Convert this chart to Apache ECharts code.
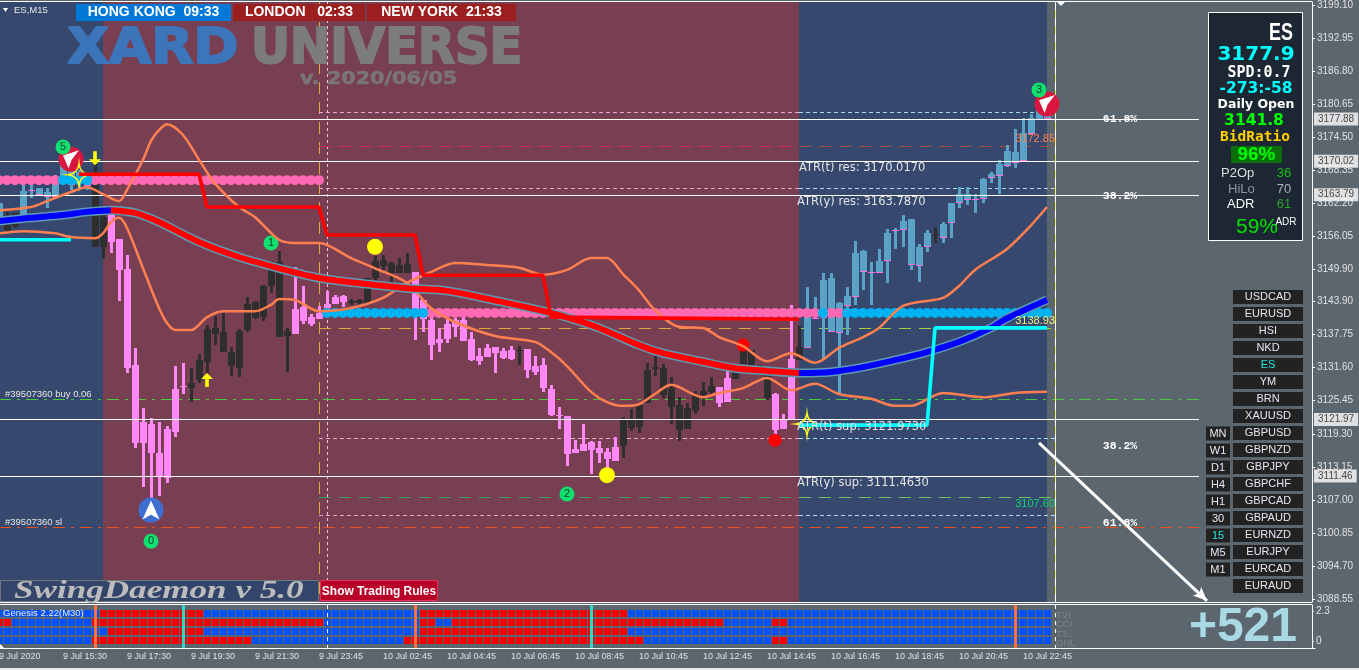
<!DOCTYPE html>
<html>
<head>
<meta charset="utf-8">
<title>ES,M15</title>
<style>
html, body { margin: 0; padding: 0; background: #5c666e; overflow: hidden; }
#chart { width: 1359px; height: 670px; }
</style>
<script src="https://cdn.jsdelivr.net/npm/echarts@6/dist/echarts.min.js"></script>
</head>
<body>
<div id="chart"></div>
<script>
// time axis, one label every 8 bars
const timeLabels = ['9 Jul 2020', '9 Jul 15:30', '9 Jul 17:30', '9 Jul 19:30', '9 Jul 21:30', '9 Jul 23:45', '10 Jul 02:45', '10 Jul 04:45', '10 Jul 06:45', '10 Jul 08:45', '10 Jul 10:45', '10 Jul 12:45', '10 Jul 14:45', '10 Jul 16:45', '10 Jul 18:45', '10 Jul 20:45', '10 Jul 22:45'];
const priceTicks = [3199.10, 3192.95, 3186.80, 3180.65, 3174.50, 3168.35, 3162.20, 3156.05, 3149.90, 3143.90, 3137.75, 3131.60, 3125.45, 3119.30, 3113.15, 3107.00, 3100.85, 3094.70, 3088.55];

// candles
const candleOpen = [
    3159.6, 3157.2, 3157.9, 3159.6, 3164.5, 3163.7, 3163.4, 3163.4, 3166.5, 3165.6,
    3166.5, 3165.4, 3154.0, 3154.0, 3160.0, 3155.5, 3150.0, 3132.1, 3121.5, 3121.1,
    3115.7, 3120.2, 3127.6, 3128.2, 3127.8, 3129.3, 3132.6, 3137.9, 3134.5, 3131.9,
    3131.5, 3138.6, 3140.9, 3141.0, 3146.8, 3137.3, 3137.5, 3142.5, 3142.9, 3141.0,
    3141.8, 3143.4, 3144.7, 3144.9, 3143.6, 3143.6, 3143.6, 3148.3, 3150.5, 3149.2,
    3149.2, 3149.2, 3149.4, 3144.2, 3140.5, 3136.9, 3139.7, 3140.5, 3140.5, 3136.9,
    3133.8, 3135.3, 3135.4, 3134.7, 3134.9, 3134.7, 3135.1, 3131.9, 3132.1, 3127.6,
    3122.8, 3122.6, 3116.5, 3117.4, 3117.8, 3116.7, 3115.9, 3116.8, 3117.0, 3120.4,
    3120.6, 3125.0, 3131.4, 3126.5, 3124.3, 3120.0, 3120.2, 3123.5, 3126.5, 3127.1,
    3128.0, 3129.7, 3129.5, 3132.3, 3132.1, 3130.2, 3125.9, 3126.7, 3122.0, 3133.2,
    3133.0, 3135.3, 3140.7, 3140.8, 3138.2, 3138.1, 3143.1, 3144.7, 3149.4, 3149.2,
    3149.2, 3151.5, 3157.0, 3157.2, 3150.7, 3150.5, 3154.0, 3156.3, 3155.7, 3158.5,
    3162.2, 3162.8, 3162.8, 3163.0, 3166.9, 3167.3, 3169.1, 3169.7, 3170.0, 3175.1,
    3177.7, 3177.9
];
const candleClose = [
    3162.2, 3160.0, 3160.4, 3164.5, 3164.7, 3165.0, 3164.3, 3166.2, 3169.3, 3168.8,
    3168.0, 3166.9, 3165.9, 3159.6, 3155.0, 3149.8, 3131.5, 3117.6, 3117.6, 3115.7,
    3111.2, 3111.1, 3119.6, 3128.0, 3128.7, 3133.0, 3138.8, 3139.0, 3138.2, 3134.5,
    3138.4, 3143.4, 3143.8, 3146.8, 3151.3, 3151.3, 3138.4, 3137.9, 3140.3, 3139.7,
    3140.7, 3142.7, 3143.4, 3143.8, 3144.0, 3144.2, 3148.3, 3151.5, 3151.6, 3151.1,
    3150.7, 3150.9, 3142.3, 3140.7, 3135.8, 3136.2, 3136.9, 3139.2, 3136.6, 3133.0,
    3132.8, 3133.6, 3134.3, 3133.4, 3133.2, 3134.9, 3131.2, 3130.8, 3127.8, 3122.8,
    3122.6, 3115.5, 3115.7, 3116.1, 3116.3, 3115.7, 3114.6, 3114.2, 3122.0, 3121.9,
    3124.6, 3131.2, 3131.7, 3131.5, 3127.8, 3124.6, 3124.1, 3126.5, 3127.3, 3128.2,
    3125.0, 3125.2, 3131.2, 3134.9, 3134.9, 3132.1, 3130.2, 3120.0, 3120.2, 3121.9,
    3135.4, 3141.8, 3140.8, 3147.9, 3148.3, 3143.6, 3144.9, 3152.9, 3153.3, 3149.4,
    3151.5, 3156.7, 3157.2, 3158.9, 3159.3, 3154.0, 3156.7, 3156.5, 3158.3, 3162.2,
    3163.9, 3163.9, 3163.0, 3166.7, 3167.6, 3169.5, 3171.9, 3171.7, 3175.3, 3178.1,
    3179.6, 3178.6
];
const candleLow = [
    3159.6, 3156.8, 3157.6, 3159.3, 3163.2, 3163.6, 3161.3, 3163.2, 3166.2, 3164.7,
    3164.7, 3164.7, 3154.0, 3151.8, 3152.9, 3144.0, 3130.6, 3116.6, 3109.4, 3107.3,
    3107.7, 3110.1, 3118.7, 3126.7, 3125.2, 3128.7, 3130.6, 3135.8, 3134.5, 3130.0,
    3129.9, 3138.2, 3140.7, 3140.3, 3145.5, 3137.3, 3130.8, 3137.9, 3139.7, 3139.4,
    3140.7, 3141.0, 3143.4, 3142.9, 3143.3, 3143.4, 3143.4, 3147.7, 3149.8, 3147.4,
    3149.2, 3149.2, 3136.7, 3138.2, 3133.0, 3134.5, 3136.2, 3137.3, 3136.6, 3132.8,
    3132.1, 3133.6, 3130.6, 3133.2, 3133.0, 3132.1, 3129.7, 3130.2, 3127.1, 3122.6,
    3120.2, 3113.3, 3115.7, 3116.1, 3111.8, 3113.9, 3112.5, 3114.2, 3114.8, 3119.8,
    3119.4, 3125.0, 3130.0, 3125.9, 3121.1, 3117.9, 3120.2, 3123.0, 3124.5, 3126.7,
    3124.3, 3125.2, 3129.5, 3132.3, 3132.1, 3130.2, 3125.6, 3118.1, 3120.2, 3121.9,
    3133.0, 3135.3, 3140.7, 3133.2, 3138.2, 3126.5, 3137.7, 3143.3, 3146.0, 3143.3,
    3149.2, 3147.4, 3153.7, 3154.0, 3149.8, 3147.5, 3153.1, 3154.8, 3154.8, 3155.7,
    3161.3, 3161.9, 3160.4, 3162.2, 3165.9, 3163.9, 3168.9, 3168.8, 3170.0, 3175.1,
    3177.7, 3177.9
];
const candleHigh = [
    3162.2, 3160.6, 3160.4, 3165.6, 3165.6, 3165.0, 3165.0, 3167.5, 3170.3, 3169.3,
    3168.4, 3167.5, 3169.7, 3160.0, 3160.6, 3155.5, 3152.6, 3135.3, 3124.1, 3122.2,
    3121.5, 3120.7, 3131.9, 3132.5, 3131.5, 3134.1, 3139.5, 3141.2, 3141.8, 3135.4,
    3138.8, 3144.8, 3144.0, 3147.0, 3151.4, 3153.3, 3139.0, 3150.3, 3146.8, 3141.6,
    3143.1, 3145.9, 3145.1, 3145.1, 3144.4, 3144.4, 3148.3, 3152.4, 3152.6, 3151.3,
    3152.0, 3152.9, 3149.4, 3144.2, 3141.0, 3139.0, 3141.0, 3140.8, 3141.0, 3138.2,
    3135.3, 3136.0, 3135.4, 3135.3, 3135.6, 3135.6, 3135.1, 3133.8, 3133.4, 3128.4,
    3124.3, 3122.6, 3118.1, 3121.1, 3117.9, 3117.9, 3116.7, 3118.7, 3122.4, 3123.9,
    3125.0, 3132.5, 3133.8, 3132.3, 3129.9, 3126.1, 3125.0, 3127.3, 3128.9, 3129.9,
    3128.0, 3131.0, 3131.2, 3135.8, 3134.9, 3132.1, 3130.2, 3126.9, 3122.9, 3143.3,
    3139.4, 3146.6, 3144.8, 3149.2, 3149.2, 3143.8, 3146.6, 3155.2, 3153.5, 3151.3,
    3153.7, 3157.4, 3157.6, 3160.0, 3159.3, 3154.6, 3157.2, 3157.8, 3158.7, 3162.2,
    3165.2, 3165.2, 3163.9, 3166.9, 3168.0, 3170.3, 3173.0, 3176.0, 3178.1, 3178.8,
    3179.9, 3179.2
];
// b = blue, d = dark, p = pink
const candleKinds = ('bddbbbbbbbbbdd' + 'pppppppppp' + 'ddddddddddddd' + 'ppppppp' + 'dddddddd' + 'ppppppppppppp' + 'd' + 'pppppppppppp' + 'dddddddddddd' + 'pp' + 'ddddd' + 'ppp' + 'd' + 'bbbbbbbbbbbbbbbb' + 'd' + 'bbbbbbbbbbbbbb').split('');

// lines, [bar, price]
const maPoints = [[0, 3158.9], [4, 3159.5], [8, 3160.0], [11, 3160.6], [14, 3160.9], [17, 3160.4], [20, 3158.7], [25, 3155.0], [30, 3152.2], [35, 3150.1], [40, 3148.3], [47, 3147.0], [51, 3146.4], [56, 3145.9], [63, 3143.8], [69, 3141.8], [72, 3140.5], [75, 3139.0], [80, 3135.8], [83, 3134.3], [88, 3132.7], [92, 3131.5], [96, 3131.0], [100, 3130.6], [104, 3130.8], [108, 3131.7], [112, 3133.0], [116, 3134.5], [120, 3136.4], [124, 3139.0], [126, 3140.8], [131, 3144.2]];
const bandA = [[0, 3160.9], [4, 3161.5], [6, 3162.6], [9, 3164.3], [11, 3165.2], [13, 3163.9], [15, 3162.6], [16, 3164.7], [18, 3170.3], [19, 3173.8], [20, 3175.8], [21, 3176.9], [23, 3174.9], [25, 3170.3], [27, 3165.9], [30, 3161.5], [32, 3159.6], [35, 3155.4], [37, 3154.8], [40, 3154.8], [44, 3152.0], [47, 3150.1], [51, 3147.4], [54, 3142.7], [57, 3140.1], [62, 3137.5], [67, 3136.4], [69, 3134.5], [71, 3131.9], [74, 3127.1], [76, 3125.2], [78, 3124.5], [80, 3124.8], [82, 3126.7], [84, 3128.4], [88, 3126.1], [90, 3126.9], [93, 3127.8], [96, 3129.7], [99, 3127.4], [102, 3128.6], [105, 3126.7], [109, 3125.8], [112, 3124.5], [114, 3124.5], [118, 3126.9], [123, 3126.1], [127, 3126.9], [131, 3127.1]];
const bandB = [[0, 3156.6], [3, 3157.0], [7, 3156.6], [9, 3155.9], [12, 3155.7], [13, 3156.6], [14, 3158.7], [15, 3159.5], [16, 3157.6], [18, 3150.1], [20, 3142.7], [21, 3139.9], [22, 3138.6], [24, 3138.6], [26, 3141.0], [28, 3142.1], [32, 3142.1], [34, 3143.3], [35, 3144.4], [37, 3144.2], [40, 3142.1], [44, 3142.7], [48, 3144.6], [51, 3147.4], [54, 3149.4], [57, 3151.1], [61, 3150.7], [65, 3150.2], [68, 3148.9], [71, 3149.8], [74, 3152.0], [76, 3152.0], [78, 3149.0], [80, 3146.0], [82, 3142.3], [85, 3139.2], [88, 3139.0], [90, 3137.3], [93, 3135.6], [96, 3132.8], [99, 3134.3], [102, 3132.5], [105, 3135.3], [108, 3137.3], [110, 3139.0], [113, 3143.1], [118, 3144.6], [120, 3146.8], [122, 3149.8], [126, 3153.7], [129, 3158.1], [131, 3161.5]];
const redSteps = [[10, 3167.6], [25, 3167.6], [26, 3161.5], [40, 3161.5], [41, 3156.3], [52, 3156.3], [53, 3148.8], [68, 3148.8], [69, 3141.0], [100, 3140.6]];
const cyanLeft = [[0, 3155.4], [9, 3155.4]];
const cyanRight = [[100, 3120.9], [116, 3120.9], [117, 3139.0], [131, 3139.0]];

// dot rows
const dotRow1Price = 3166.5, dotRow1Bars = [0, 40], dotRow1Blue = [8, 9, 10, 11];
const dotRow2Price = 3141.8, dotRow2Bars = [41, 131], dotRow2Pink = [[54, 102], [104, 105]];

// levels
const solidLevels = [3177.88, 3170.02, 3163.79, 3121.97, 3111.46];
const atrDotted = [3179.2, 3165.0, 3118.5, 3104.1];
const buyLevel = 3125.77, slLevel = 3101.95;
const upperPending = 3172.85, midPending = 3138.93, lowerPending = 3107.60;

// markers
const greenBars = [8, 34, 71, 19, 130], greenPrices = [3172.67, 3154.8, 3108.1, 3099.3, 3183.3], greenNames = ['5', '1', '2', '0', '3'];
const yellowBars = [47, 76], yellowPrices = [3154.1, 3111.6];
const redDotBars = [93, 97], redDotPrices = [3135.8, 3118.1];
const sellIconBars = [9, 131], sellIconPrices = [3170.4, 3180.67];
const buyIconBars = [19], buyIconPrices = [3105.1];
const upArrowBars = [26], upArrowPrices = [3129.3];
const downArrowBars = [12], downArrowPrices = [3170.6];
const starBars = [10, 101], starPrices = [3167.5, 3121.1];
const tradeArrow = [[130, 3117.6], [151, 3088.2]];

// Genesis panel: [last bar, 1 red / 0 blue]
const genesisTvi = [[12, 0], [25, 1], [52, 0], [78, 1], [131, 0]];
const genesisCci = [[1, 1], [11, 0], [40, 1], [52, 0], [54, 1], [56, 0], [90, 1], [96, 0], [98, 1], [131, 0]];
const genesisT3 = [[13, 0], [25, 1], [52, 0], [78, 1], [131, 0]];
const genesisGhl = [[11, 0], [31, 1], [50, 0], [80, 1], [96, 0], [98, 1], [131, 0]];
const genesisLevels = [2.17, 1.49, 0.81, 0.11];
const genesisOrange = [12, 52, 127], genesisTeal = [23, 74];

// side buttons
const symbolNames = ['USDCAD', 'EURUSD', 'HSI', 'NKD', 'ES', 'YM', 'BRN', 'XAUUSD', 'GBPUSD', 'GBPNZD', 'GBPJPY', 'GBPCHF', 'GBPCAD', 'GBPAUD', 'EURNZD', 'EURJPY', 'EURCAD', 'EURAUD'];
const timeframeNames = ['MN', 'W1', 'D1', 'H4', 'H1', '30', '15', 'M5', 'M1'];

const BG = '#5c666e', ZONE_BLUE = '#36486e', ZONE_RED = '#783f52';
const yMax = 3199.658, yMin = 3087.99, subMax = 2.752, subMin = -0.49;
const zones = [[0, 13, ZONE_BLUE], [13, 100, ZONE_RED], [100, 131, ZONE_BLUE]];
const BAR_TOTAL = 165;

let categories = [];
for (let i = 0; i < BAR_TOTAL; i++) {
    categories.push(i % 8 === 0 && timeLabels[i / 8] ? timeLabels[i / 8] : '');
}

let myChart = echarts.init(document.getElementById('chart'));

//-------------------- series helpers --------------------
function line(data, color, width, extra) {
    return Object.assign({
        type: 'line', data: data, xAxisIndex: 0, yAxisIndex: 0,
        showSymbol: false, symbol: 'none', silent: true,
        lineStyle: { color: color, width: width }
    }, extra || {});
}
// horizontal and vertical rules, kept on whole pixels so they stay crisp
function level(from, to, price, color, width, dash) {
    return {
        type: 'custom', xAxisIndex: 0, yAxisIndex: 0, silent: true, data: [[from, to, price]], encode: { x: [0, 1], y: 2 },
        renderItem: function (params, api) {
            let a = api.coord([api.value(0), api.value(2)]);
            let b = api.coord([api.value(1), api.value(2)]);
            let y = Math.round(a[1]) + 0.5;
            return { type: 'line', shape: { x1: a[0], y1: y, x2: b[0], y2: y }, style: { stroke: color, lineWidth: width, lineDash: dash || null } };
        }
    };
}
function vertical(bar, lo, hi, color, width, dash, axis) {
    return {
        type: 'custom', xAxisIndex: axis, yAxisIndex: axis, silent: true, data: [[bar, lo, hi]], encode: { x: 0, y: [1, 2] },
        renderItem: function (params, api) {
            let a = api.coord([api.value(0), api.value(2)]);
            let b = api.coord([api.value(0), api.value(1)]);
            let x = a[0] + 0.5;
            return { type: 'line', shape: { x1: x, y1: a[1], x2: x, y2: b[1] }, style: { stroke: color, lineWidth: width, lineDash: dash || null } };
        }
    };
}
function marker(bars, prices, symbol, size, color, extra) {
    return Object.assign({
        type: 'scatter', xAxisIndex: 0, yAxisIndex: 0, silent: true,
        data: bars.map((b, k) => [b, prices[k]]),
        symbol: symbol, symbolSize: size,
        itemStyle: { color: color, opacity: 1 }
    }, extra || {});
}

//-------------------- candles --------------------
const CANDLE_COLOR = { b: '#5ba3c6', d: '#2e2e2e', p: '#ff88f8' };
function renderCandle(params, api) {
    let i = api.value(0);
    let x = api.coord([i, 0])[0];
    let kind = candleKinds[params.dataIndex];
    let color = CANDLE_COLOR[kind];
    let top = Math.round(api.coord([i, Math.max(api.value(1), api.value(2))])[1]);
    let bottom = Math.round(api.coord([i, Math.min(api.value(1), api.value(2))])[1]);
    let high = Math.round(api.coord([i, api.value(4)])[1]);
    let low = Math.round(api.coord([i, api.value(3)])[1]);
    let children = [
        { type: 'rect', shape: { x: x - 1, y: high, width: 3, height: Math.max(low - high, 1) }, style: { fill: color } },
        { type: 'rect', shape: { x: x - 3, y: top, width: 7, height: Math.max(bottom - top, 1) }, style: { fill: color } }
    ];
    if (kind === 'b') {
        children.push({ type: 'rect', shape: { x: x - 3, y: bottom - 1, width: 7, height: 1 }, style: { fill: '#ff70e0' } });
    }
    return { type: 'group', children: children };
}
let candleData = candleOpen.map((o, i) => [i, o, candleClose[i], candleLow[i], candleHigh[i]]);

//-------------------- zones --------------------
function renderZone(params, api) {
    let a = api.coord([api.value(0), yMax]);
    let b = api.coord([api.value(1), yMin]);
    return { type: 'rect', shape: { x: a[0], y: a[1], width: b[0] - a[0], height: b[1] - a[1] }, style: { fill: zones[params.dataIndex][2] } };
}

//-------------------- dots --------------------
function dotData(range, price, test) {
    let blue = [], pink = [];
    for (let i = range[0]; i <= range[1]; i++) {
        (test(i) ? blue : pink).push([i, price]);
    }
    return { blue: blue, pink: pink };
}
let row1 = dotData(dotRow1Bars, dotRow1Price, i => dotRow1Blue.indexOf(i) >= 0);
let row2 = dotData(dotRow2Bars, dotRow2Price, i => !dotRow2Pink.some(r => i >= r[0] && i <= r[1]));

//-------------------- genesis cells --------------------
let genesisCells = [];
[genesisTvi, genesisCci, genesisT3, genesisGhl].forEach((runs, row) => {
    let start = 0;
    runs.forEach(run => {
        for (let i = start; i <= run[0]; i++) {
            genesisCells.push([i, genesisLevels[row], run[1]]);
        }
        start = run[0] + 1;
    });
});
function renderCell(params, api) {
    let p = api.coord([api.value(0), api.value(1)]);
    return {
        type: 'rect',
        shape: { x: p[0] - 3, y: Math.round(p[1]) - 3, width: 7, height: 7 },
        style: { fill: api.value(2) === 1 ? '#f40000' : '#0050ff' }
    };
}

//-------------------- series list --------------------
let series = [
    { type: 'custom', xAxisIndex: 0, yAxisIndex: 0, silent: true, renderItem: renderZone, data: zones.map(z => [z[0], z[1]]), encode: { x: [0, 1] } }
];
series.push(vertical(40, yMin, yMax, '#e2a84a', 1, [12, 8], 0));
series.push(vertical(41, yMin, yMax, '#f0c0e0', 1, [3, 3], 0));

atrDotted.forEach(p => {
    series.push(level(40, 100, p, '#e6a6d8', 1, [4, 3]));
    series.push(level(100, 132, p, '#a8dcf0', 1, [4, 3]));
});
series.push(level(40, 100, upperPending, '#d62a5a', 1, [12, 8]));
series.push(level(100, 132, upperPending, '#a84c40', 1, [12, 8]));
series.push(level(40, 100, midPending, '#dfa63c', 1, [12, 8]));
series.push(level(100, 132, midPending, '#a0d048', 1, [12, 8]));
series.push(level(40, 100, lowerPending, '#3f9f62', 1, [12, 8]));
series.push(level(100, 132, lowerPending, '#72c060', 1, [12, 8]));
series.push(level(0, 150, buyLevel, '#4cc83c', 1, [12, 6, 3, 6]));
series.push(level(0, 150, slLevel, '#e8501e', 1, [12, 6, 3, 6]));

series.push({ type: 'custom', xAxisIndex: 0, yAxisIndex: 0, silent: true, renderItem: renderCandle, data: candleData, encode: { x: 0, y: [1, 2, 3, 4] } });

solidLevels.forEach(p => series.push(level(0, 150, p, '#ffffff', 1)));

series.push(vertical(132, yMin, yMax, '#f4ee70', 1, null, 0));
series.push(vertical(132, yMin, yMax, '#ffffff', 1, [8, 8], 0));

series.push(line(bandA, '#ff7f50', 2.5, { smooth: 0.3 }));
series.push(line(bandB, '#ff7f50', 2.5, { smooth: 0.3 }));
series.push(line(maPoints, '#5e9ab5', 9, { smooth: 0.3 }));
series.push(line(maPoints.filter(p => p[0] <= 14), '#0000ff', 6, { smooth: 0.3 }));
series.push(line(maPoints.filter(p => p[0] >= 14 && p[0] <= 100), '#ff0000', 6, { smooth: 0.3 }));
series.push(line(maPoints.filter(p => p[0] >= 100), '#0000ff', 6, { smooth: 0.3 }));
series.push(line(redSteps, '#ff0000', 3.6));
series.push(line(cyanLeft, '#00ffff', 3.6));
series.push(line(cyanRight, '#00ffff', 3.6));

series.push(marker(row1.pink.map(d => d[0]), row1.pink.map(d => d[1]), 'circle', 10, '#ff69b4'));
series.push(marker(row1.blue.map(d => d[0]), row1.blue.map(d => d[1]), 'circle', 10, '#00b2f2'));
series.push(marker(row2.pink.map(d => d[0]), row2.pink.map(d => d[1]), 'circle', 10, '#ff69b4'));
series.push(marker(row2.blue.map(d => d[0]), row2.blue.map(d => d[1]), 'circle', 10, '#00b2f2'));

series.push(marker(yellowBars, yellowPrices, 'circle', 16, '#ffff00'));
series.push(marker(redDotBars, redDotPrices, 'circle', 13, '#ff0000'));
series.push(marker(sellIconBars, sellIconPrices, 'circle', 25, '#d8163e'));
series.push(marker(sellIconBars, sellIconPrices, 'path://M20 0 L3 7 L9 24 L12 13 Z', [16, 18], '#ffffff'));
series.push(marker(buyIconBars, buyIconPrices, 'circle', 25, '#3e6fd0'));
series.push(marker(buyIconBars, buyIconPrices, 'path://M10 0 L0 20 L10 15 L20 20 Z', [17, 19], '#ffffff'));
series.push(marker(upArrowBars, upArrowPrices, 'path://M5 0 L10 6 L6.5 6 L6.5 14 L3.5 14 L3.5 6 L0 6 Z', [12, 14], '#ffff00'));
series.push(marker(downArrowBars, downArrowPrices, 'path://M5 14 L10 8 L6.5 8 L6.5 0 L3.5 0 L3.5 8 L0 8 Z', [12, 14], '#ffff00'));
series.push(marker(starBars, starPrices, 'path://M10 0 Q11 9 20 10 Q11 11 10 20 Q9 11 0 10 Q9 9 10 0 Z', 22, 'rgba(0,0,0,0)', {
    itemStyle: { color: 'rgba(0,0,0,0)', borderColor: '#ffff20', borderWidth: 1.5, opacity: 1 }
}));
series.push({
    type: 'scatter', xAxisIndex: 0, yAxisIndex: 0, silent: true,
    data: greenBars.map((b, k) => ({ value: [b, greenPrices[k]], name: greenNames[k] })),
    symbol: 'circle', symbolSize: 15,
    itemStyle: { color: '#10e070', opacity: 1 },
    label: { show: true, position: 'inside', formatter: '{b}', color: '#14402c', fontSize: 11, fontFamily: 'Liberation Sans' }
});

// trade arrow
series.push(line([
    { value: tradeArrow[0], symbol: 'none' },
    { value: tradeArrow[1], symbol: 'arrow', symbolSize: [9, 14], symbolRotate: -134 }
], '#ffffff', 3, { showSymbol: true, showAllSymbol: true, symbol: 'none', itemStyle: { color: '#ffffff' } }));

// price tags
series.push({
    type: 'scatter', xAxisIndex: 0, yAxisIndex: 0, silent: true, symbolSize: 0,
    data: solidLevels.map(p => [164, p]),
    label: {
        show: true, position: 'right', distance: 3,
        formatter: p => p.value[1].toFixed(2),
        backgroundColor: '#ffffff', color: '#222', padding: [2, 4, 1, 4],
        fontSize: 10, fontFamily: 'Liberation Sans'
    }
});

// genesis
series.push({ type: 'custom', xAxisIndex: 1, yAxisIndex: 1, silent: true, renderItem: renderCell, data: genesisCells, encode: { x: 0, y: 1 } });
genesisOrange.forEach(b => series.push(vertical(b, subMin, subMax, '#ff7040', 3, null, 1)));
genesisTeal.forEach(b => series.push(vertical(b, subMin, subMax, '#2fd8c2', 3, null, 1)));
series.push(vertical(41, subMin, subMax, '#ffffff', 1, [4, 4], 1));
series.push(vertical(132, subMin, subMax, '#ffffff', 1, [4, 4], 1));

//-------------------- overlays --------------------
function gText(x, y, text, color, size, family, weight, align, extra) {
    let el = {
        type: 'text', x: x, y: y, z: 100, silent: true,
        style: {
            text: text, fill: color, fontSize: size, fontFamily: family || 'Liberation Sans',
            fontWeight: weight || 'normal',
            align: align || 'left', textAlign: align || 'left',
            verticalAlign: 'middle', textVerticalAlign: 'middle'
        }
    };
    if (extra && extra.style) {
        Object.assign(el.style, extra.style);
    }
    if (extra && extra.scaleX) {
        el.scaleX = extra.scaleX;
    }
    return el;
}
function gRect(x, y, w, h, fill, stroke) {
    return {
        type: 'rect', z: 99, silent: true,
        shape: { x: x, y: y, width: w, height: h },
        style: { fill: fill, stroke: stroke || null, lineWidth: stroke ? 1 : 0 }
    };
}
function gLine(x1, y1, x2, y2, color) {
    return { type: 'line', z: 98, silent: true, shape: { x1: x1, y1: y1, x2: x2, y2: y2 }, style: { stroke: color, lineWidth: 1 } };
}

const SANS = 'Liberation Sans', BOLD = 'DejaVu Sans', MONO = 'DejaVu Sans Mono';
let overlay = [
    gLine(0, 1.5, 1312, 1.5, '#ffffff'),
    gLine(0, 602.5, 1312, 602.5, '#ffffff'),
    gLine(0, 604.5, 1312, 604.5, '#ffffff'),
    gRect(0, 668, 1359, 2, '#e8e8e8'),
    { type: 'polygon', z: 99, silent: true, shape: { points: [[1056, 1], [1066, 1], [1061, 6]] }, style: { fill: '#ffffff' } },
    { type: 'polygon', z: 99, silent: true, shape: { points: [[0, 644], [0, 649], [5, 649]] }, style: { fill: '#ffffff' } },
    { type: 'polygon', z: 99, silent: true, shape: { points: [[3, 8], [8, 8], [5.5, 12]] }, style: { fill: '#ffffff' } },
    gText(14, 10, 'ES,M15', '#e8e8e8', 9.5),

    // sessions
    gRect(76, 4, 155, 17, '#0078d7'),
    gRect(233, 4, 132, 17, '#9c1f1f'),
    gRect(367, 4, 149, 17, '#9c1f1f'),
    gText(153.5, 12.5, 'HONG KONG  09:33', '#ffffff', 14, SANS, 'bold', 'center'),
    gText(299, 12.5, 'LONDON   02:33', '#ffffff', 14, SANS, 'bold', 'center'),
    gText(441.5, 12.5, 'NEW YORK  21:33', '#ffffff', 14, SANS, 'bold', 'center'),

    // watermark
    gText(67, 50, 'XARD', '#3d75bb', 50, BOLD, 'bold', 'left', { scaleX: 1.09, style: { stroke: '#3d75bb', lineWidth: 2 } }),
    gText(251, 50, 'UNIVERSE', '#7c7c7c', 50, BOLD, 'bold', 'left', { scaleX: 0.96, style: { stroke: '#7c7c7c', lineWidth: 2 } }),
    gText(300, 79, 'v. 2020/06/05', '#7a7476', 18, BOLD, 'bold', 'left', { scaleX: 1.15, style: { stroke: '#7a7476', lineWidth: 0.6 } }),

    // annotations
    gText(799, 168, 'ATR(t) res: 3170.0170', '#e4e4e4', 11.5, BOLD),
    gText(797, 202, 'ATR(y) res: 3163.7870', '#e4e4e4', 11.5, BOLD),
    gText(797, 427, 'ATR(t) sup: 3121.9730', '#e4e4e4', 11.5, BOLD),
    gText(797, 483, 'ATR(y) sup: 3111.4630', '#e4e4e4', 11.5, BOLD),
    gText(5, 394, '#39507360 buy 0.06', '#e4e4e4', 9.5),
    gText(5, 522, '#39507360 sl', '#e4e4e4', 9.5),
    gText(1120, 119, '61.8%', '#ffffff', 11.5, 'Liberation Mono', 'bold', 'center'),
    gText(1120, 196, '38.2%', '#ffffff', 11.5, 'Liberation Mono', 'bold', 'center'),
    gText(1120, 446, '38.2%', '#ffffff', 11.5, 'Liberation Mono', 'bold', 'center'),
    gText(1120, 523, '61.8%', '#ffffff', 11.5, 'Liberation Mono', 'bold', 'center'),
    gText(1055, 139, '3172.85', '#ff7f50', 11, SANS, 'normal', 'right'),
    gText(1055, 321, '3138.93', '#f0f080', 11, SANS, 'normal', 'right'),
    gText(1055, 504, '3107.60', '#10d070', 11, SANS, 'normal', 'right'),

    // banner
    gRect(0.5, 580.5, 318, 21, '#33456a', '#70757c'),
    gText(14, 591, 'SwingDaemon v 5.0', '#bcbcbc', 26, 'Liberation Serif', 'bold', 'left', { scaleX: 1.35, style: { fontStyle: 'italic' } }),
    gRect(320.5, 580.5, 117, 20, '#b80028', '#e8305a'),
    gText(379, 591, 'Show Trading Rules', '#ffffff', 13, SANS, 'bold', 'center', { scaleX: 0.92 }),

    // genesis labels
    gText(3, 613, 'Genesis 2.22(M30)', '#e8e8e8', 9.5),
    gText(1056, 615, 'TVI', '#7b848b', 9.5),
    gText(1056, 624, 'CCI', '#7b848b', 9.5),
    gText(1056, 634, 'T3..', '#7b848b', 9.5),
    gText(1056, 643, 'GHL', '#7b848b', 9.5),
    gText(1297, 628, '+521', '#a9d9e4', 48, SANS, 'bold', 'right'),

    // info panel
    gRect(1208.5, 12.5, 94, 228, '#1c2733', '#ffffff'),
    gText(1293, 34, 'ES', '#ffffff', 23, SANS, 'bold', 'right', { scaleX: 0.78 }),
    gText(1256, 55, '3177.9', '#00ffff', 20, BOLD, 'bold', 'center'),
    gText(1259, 73, 'SPD:0.7', '#ffffff', 15, MONO, 'bold', 'center'),
    gText(1256, 89, '-273:-58', '#00ffff', 15.5, BOLD, 'bold', 'center'),
    gText(1256, 105, 'Daily Open', '#ffffff', 12.5, BOLD, 'bold', 'center'),
    gText(1254, 121, '3141.8', '#00ff00', 15.5, BOLD, 'bold', 'center'),
    gText(1255, 137, 'BidRatio', '#ffd000', 14.5, MONO, 'bold', 'center'),
    gRect(1231, 146, 51, 17, '#0b6e0b'),
    gText(1256.5, 155, '96%', '#00ff00', 19, SANS, 'bold', 'center'),
    gText(1221, 173, 'P2Op', '#dddddd', 13),
    gText(1228, 189, 'HiLo', '#8a95a0', 13),
    gText(1227, 204, 'ADR', '#ffffff', 13),
    gText(1284, 173, '36', '#18c018', 13, SANS, 'normal', 'center'),
    gText(1284, 189, '70', '#aab0b5', 13, SANS, 'normal', 'center'),
    gText(1284, 204, '61', '#2ea02e', 13, SANS, 'normal', 'center'),
    gText(1257, 227, '59%', '#00e000', 21, SANS, 'normal', 'center'),
    gText(1286, 222, 'ADR', '#ffffff', 10, SANS, 'normal', 'center')
];
symbolNames.forEach((name, k) => {
    let cy = 297 + k * 17;
    overlay.push(gRect(1233, cy - 7, 70, 14, '#222222'));
    overlay.push(gText(1268, cy, name, name === 'ES' ? '#20e8d8' : '#e6e6f2', 11, SANS, 'normal', 'center'));
});
timeframeNames.forEach((name, k) => {
    let cy = 433.5 + k * 17;
    overlay.push(gRect(1206, cy - 7, 24, 14, '#222222'));
    overlay.push(gText(1218, cy, name, name === '15' ? '#20e8d8' : '#e6e6f2', 11, SANS, 'normal', 'center'));
});

//-------------------- option --------------------
const axisFont = { color: '#e2e2e2', fontSize: 10, fontFamily: 'Liberation Sans' };
let option = {
    animation: false,
    backgroundColor: BG,
    grid: [
        { left: -5, top: 2, width: BAR_TOTAL * 8, height: 600, outerBoundsMode: 'none' },
        { left: -5, top: 605, width: BAR_TOTAL * 8, height: 43, outerBoundsMode: 'none' }
    ],
    xAxis: [
        { type: 'category', gridIndex: 0, data: categories, show: false },
        {
            type: 'category', gridIndex: 1, data: categories,
            axisLine: { onZero: false, lineStyle: { color: '#ffffff' } },
            axisTick: { alignWithLabel: true, interval: 7, length: 3, lineStyle: { color: '#ffffff' } },
            axisLabel: { interval: 7, align: 'left', margin: 4, color: '#e2e2e2', fontSize: 9, fontFamily: 'Liberation Sans' }
        }
    ],
    yAxis: [
        {
            type: 'value', gridIndex: 0, position: 'right', offset: -3, min: yMin, max: yMax,
            splitLine: { show: false },
            axisLine: { show: true, lineStyle: { color: '#ffffff' } },
            axisTick: { show: true, length: 3, customValues: priceTicks, lineStyle: { color: '#ffffff' } },
            axisLabel: Object.assign({ customValues: priceTicks, margin: 5, formatter: v => v.toFixed(2) }, axisFont)
        },
        {
            type: 'value', gridIndex: 1, position: 'right', offset: -3, min: subMin, max: subMax,
            splitLine: { show: false },
            axisLine: { show: true, lineStyle: { color: '#ffffff' } },
            axisTick: { show: true, length: 2, customValues: [0, 2.3], lineStyle: { color: '#ffffff' } },
            axisLabel: Object.assign({ customValues: [0, 2.3], margin: 4, formatter: v => String(v) }, axisFont)
        }
    ],
    series: series,
    graphic: { elements: overlay }
};
myChart.setOption(option);
</script>
</body>
</html>
